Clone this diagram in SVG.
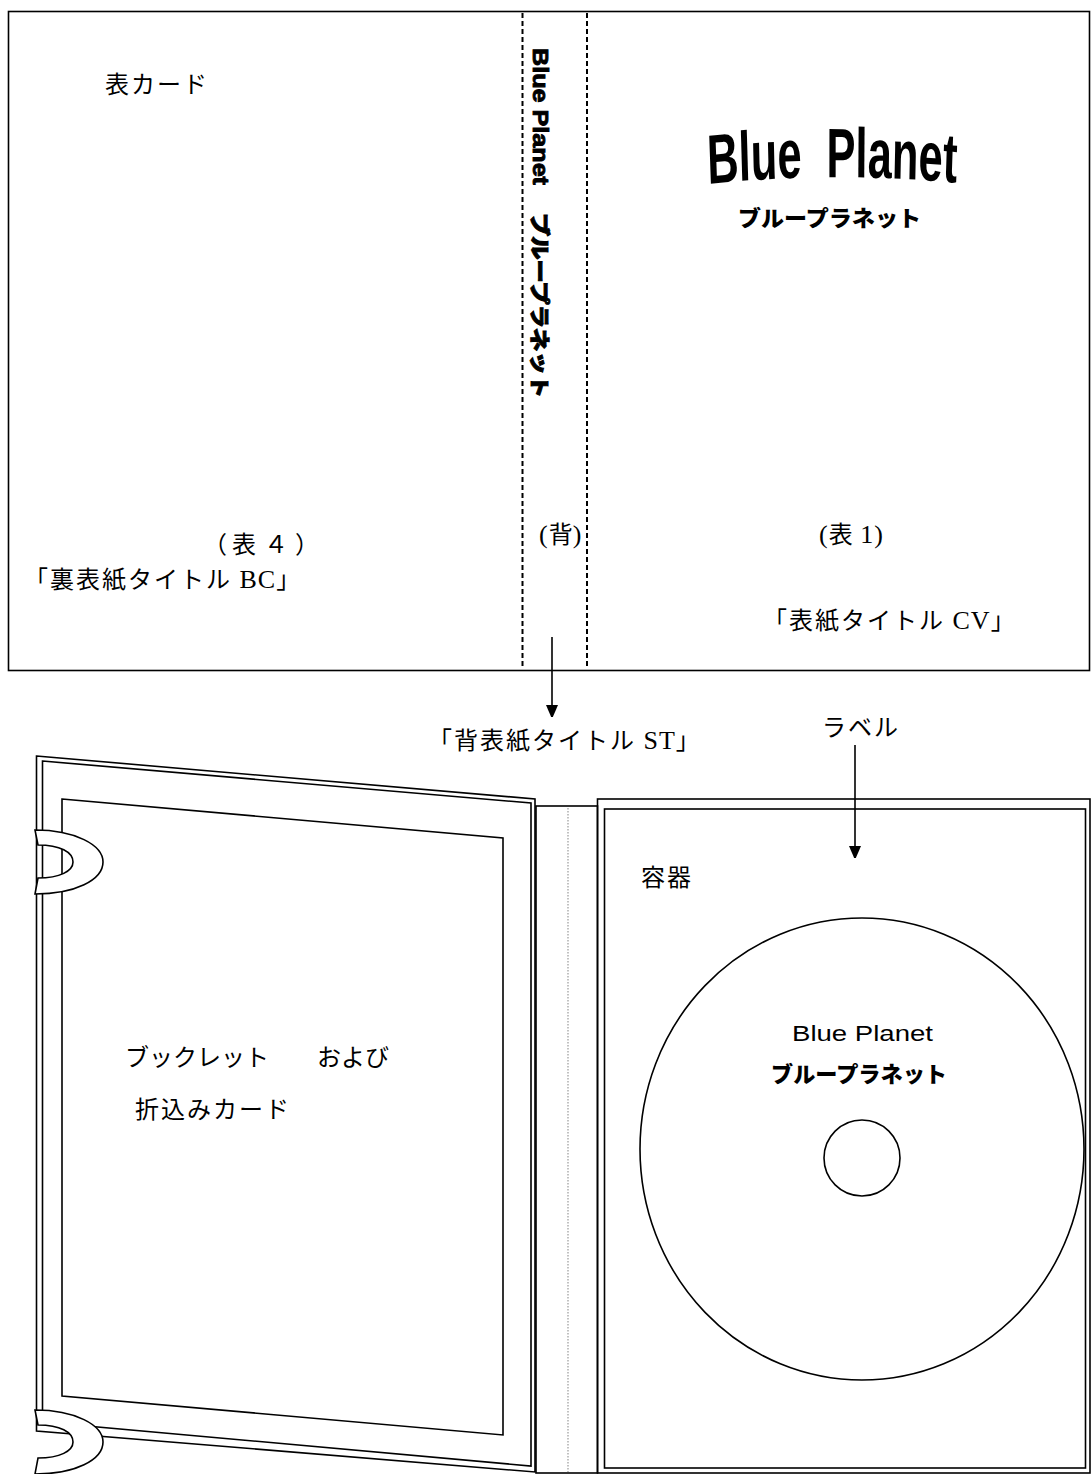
<svg xmlns="http://www.w3.org/2000/svg" width="1091" height="1474" viewBox="0 0 1091 1474">
  <style>
    .ln { fill: none; stroke: #000; stroke-width: 1.6; }
    .wf { fill: #fff; stroke: #000; stroke-width: 1.6; }
    .jp { font-family: "Noto Sans CJK JP", "Liberation Sans", sans-serif; font-size: 24px; letter-spacing: 2px; fill: #000; }
    .tight { letter-spacing: 0; }
    .sr { font-family: "Liberation Serif", serif; font-size: 26px; letter-spacing: 1px; }
    .pop { font-family: "Noto Sans CJK JP", "Liberation Sans", sans-serif; font-weight: 900; fill: #000; }
    .lat { font-family: "Liberation Sans", Arial, sans-serif; fill: #000; }
    .heavy { stroke: #000; stroke-width: 0.9; }
    .fold { fill: none; stroke: #000; stroke-width: 2; stroke-dasharray: 5 3; }
  </style>
  <defs>
    <marker id="arrow" viewBox="0 0 12 15" refX="12" refY="6" markerWidth="12" markerHeight="15" orient="auto" markerUnits="userSpaceOnUse">
      <path d="M0,0 L14,6 L0,12 Z" fill="#000"/>
    </marker>
    <path id="titleArc" d="M0,184 Q200,171 405,183"/>
  </defs>
  <rect width="1091" height="1474" fill="#fff"/>

  <!-- front card unfolded: back cover, spine, front cover -->
  <g id="card">
    <rect class="ln" x="8.5" y="11.5" width="1081" height="659"/>
    <line class="fold" x1="522.5" y1="13" x2="522.5" y2="668"/>
    <line class="fold" x1="587" y1="13" x2="587" y2="668"/>
    <text class="jp" x="105" y="93">表カード</text>
  </g>

  <g id="spine-title">
    <g transform="translate(533,0) rotate(90)">
      <text class="lat heavy" x="48" y="0" font-size="22" font-weight="bold" textLength="137" lengthAdjust="spacingAndGlyphs">Blue Planet</text>
      <text class="pop heavy" x="213" y="1" font-size="20" textLength="185" lengthAdjust="spacingAndGlyphs">ブループラネット</text>
    </g>
  </g>

  <g id="cover-title">
    <g transform="translate(708,0) scale(0.62,1)">
      <text class="lat" font-size="70" font-weight="bold" word-spacing="20"><textPath href="#titleArc">Blue Planet</textPath></text>
    </g>
    <text class="pop" x="738" y="226" font-size="22" textLength="183" lengthAdjust="spacingAndGlyphs">ブループラネット</text>
  </g>

  <g id="back-label">
    <text class="jp" x="203 232 264 295" y="553">（表４）</text>
    <text class="jp" x="24" y="588">「裏表紙タイトル<tspan class="sr"> BC</tspan>」</text>
  </g>
  <g id="spine-label">
    <text class="jp tight" x="539" y="543"><tspan class="sr tight" font-size="24">(</tspan>背<tspan class="sr tight">)</tspan></text>
  </g>
  <g id="front-label">
    <text class="jp tight" x="819" y="543"><tspan class="sr tight">(</tspan>表<tspan class="sr tight"> 1)</tspan></text>
    <text class="jp" x="763" y="629">「表紙タイトル<tspan class="sr"> CV</tspan>」</text>
  </g>

  <g id="spine-caption">
    <text class="jp" x="428" y="749">「背表紙タイトル<tspan class="sr"> ST</tspan>」</text>
  </g>
  <g id="label-caption">
    <text class="jp" x="822" y="736">ラベル</text>
  </g>

  <!-- open case: booklet side -->
  <g id="booklet-panel">
    <path class="ln" d="M36.5,756 L535,799 L535,1472 L36.5,1431 Z"/>
    <path class="ln" d="M42.5,761 L531,803 L531,1466 L42.5,1422 Z"/>
    <path class="ln" d="M62,799 L503,838 L503,1435 L62,1396 Z"/>
    <text class="jp tight" x="125" y="1066" font-size="23">ブックレット　　および</text>
    <text class="jp" x="135" y="1118">折込みカード</text>
  </g>

  <g id="clip-top">
    <path class="wf" d="M35,830 L38,845 C60,845 73,852 73,862 C73,871 60,878 38,878 L35,894 C75,894 103,880 103,862 C103,845 75,830 35,830 Z"/>
  </g>
  <g id="clip-bottom">
    <path class="wf" d="M35,1410 L38,1425 C60,1425 73,1432 73,1442 C73,1451 60,1458 38,1458 L35,1474 C75,1474 103,1460 103,1442 C103,1425 75,1410 35,1410 Z"/>
  </g>

  <!-- case spine -->
  <g id="case-spine">
    <rect class="ln" x="536" y="806" width="61.5" height="667"/>
    <line x1="568" y1="808" x2="568" y2="1472" stroke="#999" stroke-width="1.2" stroke-dasharray="1.5 1.5"/>
  </g>

  <!-- disc side -->
  <g id="disc-tray">
    <rect class="ln" x="597.5" y="799" width="492.5" height="674"/>
    <rect class="ln" x="604.5" y="809" width="481" height="659"/>
    <text class="jp" x="641" y="886">容器</text>
  </g>

  <g id="disc">
    <ellipse class="ln" cx="862" cy="1149" rx="222" ry="231"/>
    <circle class="ln" cx="862" cy="1158" r="38"/>
    <text class="lat" x="792" y="1041" font-size="22" textLength="141" lengthAdjust="spacingAndGlyphs">Blue  Planet</text>
    <text class="pop" x="771" y="1082" font-size="22" textLength="176" lengthAdjust="spacingAndGlyphs">ブループラネット</text>
  </g>

  <g id="connectors">
    <line class="ln" x1="552" y1="637" x2="552" y2="717" marker-end="url(#arrow)"/>
    <line class="ln" x1="855" y1="745" x2="855" y2="858" marker-end="url(#arrow)"/>
  </g>
</svg>
